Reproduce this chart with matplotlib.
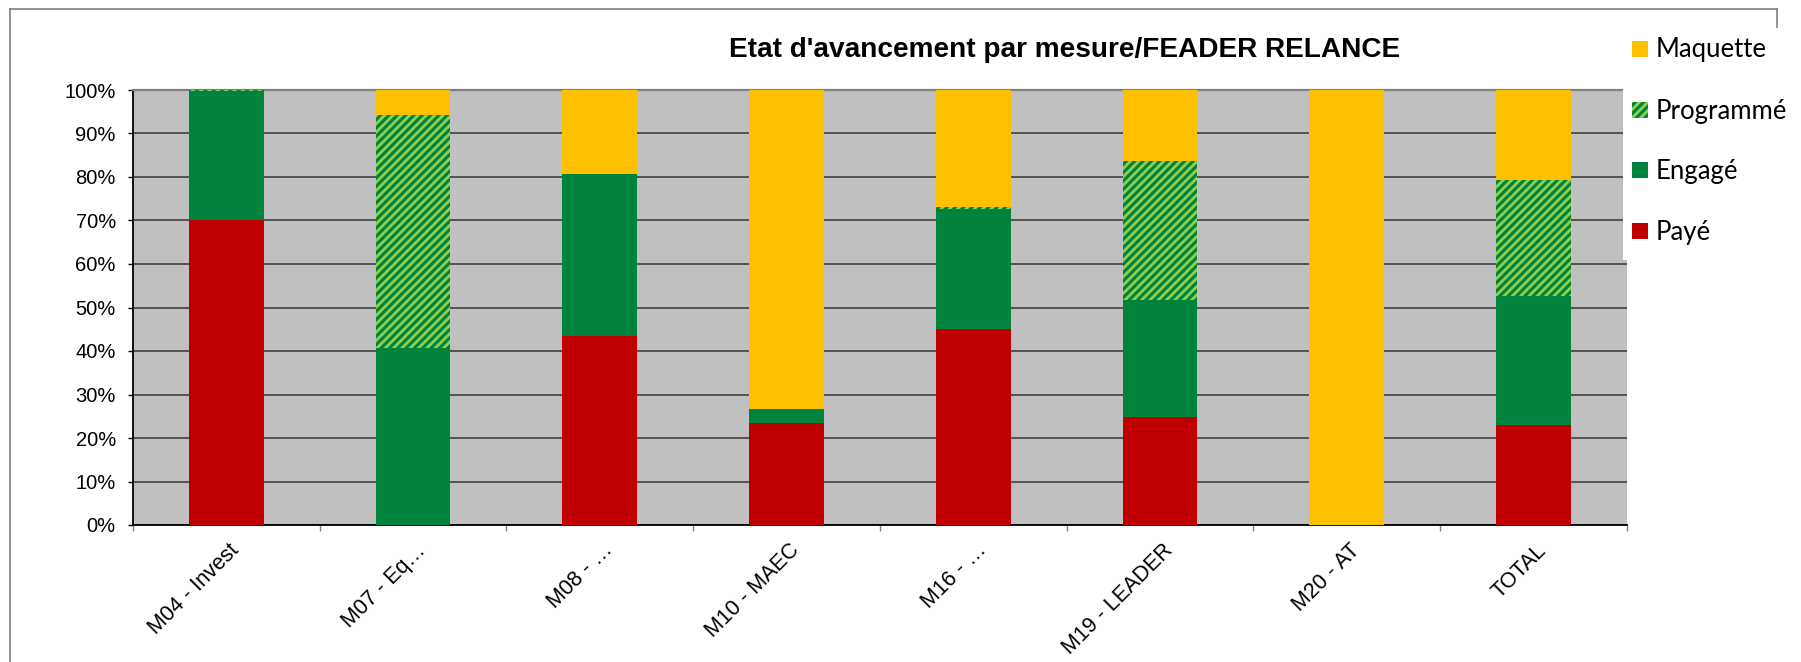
import matplotlib
matplotlib.use("Agg")
import matplotlib.pyplot as plt
from matplotlib.patches import Rectangle
from matplotlib.lines import Line2D
from matplotlib.transforms import ScaledTranslation
import numpy as np

# ---------------- data ----------------
categories = ["M04 - Invest", "M07 - Eq\u2026", "M08 - \u2026", "M10 - MAEC",
              "M16 - \u2026", "M19 - LEADER", "M20 - AT", "TOTAL"]
paye = [70.1, 0.0, 43.5, 23.5, 45.1, 24.9, 0.0, 22.9]
engage = [29.7, 40.6, 37.3, 3.1, 27.5, 26.9, 0.0, 29.8]
programme = [0.1, 53.7, 0.0, 0.0, 0.5, 31.9, 0.0, 26.7]
maquette = [0.1, 5.7, 19.2, 73.4, 26.9, 16.3, 100.0, 20.6]
series_names = ["Payé", "Engagé", "Programmé", "Maquette"]
yticks = [0, 10, 20, 30, 40, 50, 60, 70, 80, 90, 100]
ytick_labels = ["0%", "10%", "20%", "30%", "40%", "50%", "60%", "70%", "80%", "90%", "100%"]
title = "Etat d'avancement par mesure/FEADER RELANCE"

# ---------------- styles ----------------
W, H, DPI = 1801, 662, 100
plt.rcParams['hatch.linewidth'] = 2.0
styles = {
    "Payé": dict(facecolor="#C00000", edgecolor="#C00000", hatch=None),
    "Engagé": dict(facecolor="#00843D", edgecolor="#00843D", hatch=None),
    "Programmé": dict(facecolor="#00843D", edgecolor="#92D050", hatch="////"),
    "Maquette": dict(facecolor="#FFC000", edgecolor="#FFC000", hatch=None),
}

fig = plt.figure(figsize=(W / DPI, H / DPI), dpi=DPI)
fig.patch.set_facecolor("white")


def fx(px):
    return px / W


def fy(py):
    return 1 - py / H


ax = fig.add_axes([fx(132.8), fy(525), fx(1627) - fx(132.8), fy(90) - fy(525)])
ax.set_facecolor("#C0C0C0")

x = np.arange(len(categories))
width = 0.40
data = {"Payé": paye, "Engagé": engage, "Programmé": programme, "Maquette": maquette}
bottom = np.zeros(len(categories))
for name in series_names:
    vals = np.array(data[name])
    st = styles[name]
    ax.bar(x, vals, width, bottom=bottom, facecolor=st["facecolor"],
           edgecolor=st["edgecolor"], hatch=st["hatch"], linewidth=0, zorder=3)
    bottom = bottom + vals

ax.set_xlim(-0.5, len(categories) - 0.5)
ax.set_ylim(0, 100)
ax.set_axisbelow(True)
ax.yaxis.grid(True, color="#404040", linewidth=1.2)

ax.spines["right"].set_visible(False)
ax.spines["top"].set_color("#808080")
ax.spines["top"].set_linewidth(1.6)
ax.spines["left"].set_color("black")
ax.spines["left"].set_linewidth(1.3)
ax.spines["bottom"].set_color("black")
ax.spines["bottom"].set_linewidth(1.3)

ax.set_yticks(yticks)
ax.set_yticklabels(ytick_labels, fontsize=14.5, family="Liberation Sans")
ax.tick_params(axis="y", length=3.6, width=1, color="black", pad=8.6, direction="out")

ax.set_xticks(x)
ax.set_xticklabels(categories, fontsize=15.5, family="Liberation Sans",
                   rotation=45, ha="right", va="center", rotation_mode="anchor")
ax.tick_params(axis="x", which="major", length=0, pad=16.0)
ax.set_xticks(np.arange(-0.5, len(categories), 1), minor=True)
ax.tick_params(axis="x", which="minor", length=4.5, width=1, color="#808080", direction="out")
offset = ScaledTranslation(10 / DPI, 0, fig.dpi_scale_trans)
for lbl in ax.get_xticklabels():
    lbl.set_transform(lbl.get_transform() + offset)

# title
fig.text(fx(1065), fy(50), title, ha="center", va="center", fontsize=20.2,
         fontweight="bold", family="Liberation Sans")

# outer frame (top, left, right stub)
frame_kw = dict(transform=fig.transFigure, color="#7F7F7F", linewidth=1.2)
fig.add_artist(Line2D([fx(10), fx(1777)], [fy(9), fy(9)], **frame_kw))
fig.add_artist(Line2D([fx(10), fx(10)], [fy(9), fy(662)], **frame_kw))
fig.add_artist(Line2D([fx(1777), fx(1777)], [fy(9), fy(40)], **frame_kw))

# legend (manual, Excel-like)
fig.add_artist(Rectangle((fx(1623), fy(260)), fx(1801) - fx(1623), fy(28) - fy(260),
                         transform=fig.transFigure, facecolor="white", edgecolor="none", zorder=5))
legend_order = ["Maquette", "Programmé", "Engagé", "Payé"]
legend_y = [49, 110, 170, 231]
for name, cy in zip(legend_order, legend_y):
    st = styles[name]
    fig.add_artist(Rectangle((fx(1632), fy(cy + 8)), fx(16), fy(cy - 8) - fy(cy + 8),
                             transform=fig.transFigure, facecolor=st["facecolor"],
                             edgecolor=st["edgecolor"], hatch=st["hatch"], linewidth=0, zorder=6))
    fig.text(fx(1656), fy(cy + 8.5), name, ha="left", va="baseline", fontsize=18.5,
             family="Lato", zorder=7)

fig.savefig("out.png", dpi=DPI, facecolor="white")
